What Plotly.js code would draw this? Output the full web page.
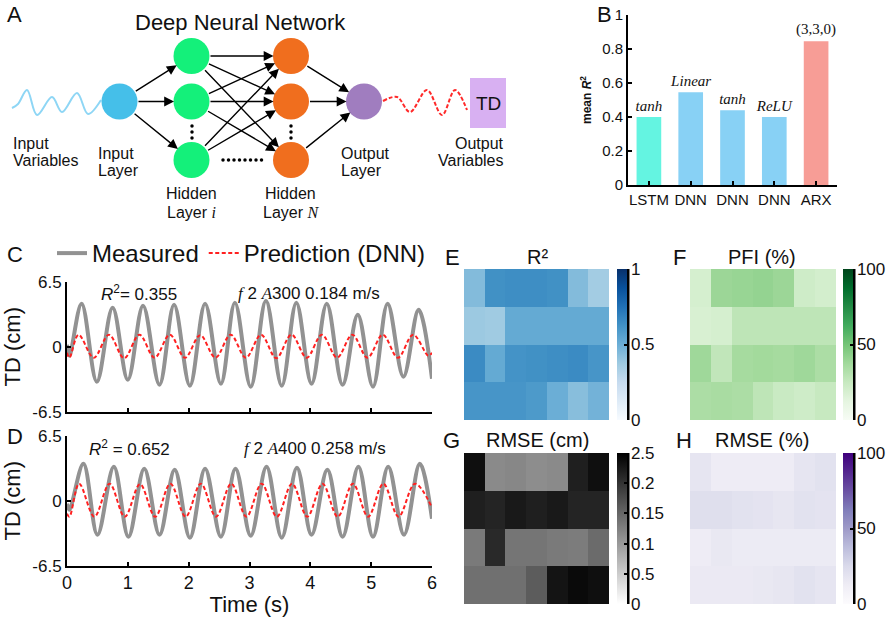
<!DOCTYPE html>
<html><head><meta charset="utf-8">
<script src="https://cdn.plot.ly/plotly-3.0.1.min.js"></script>
<style>html,body{margin:0;padding:0;background:#fff;}#chart{width:893px;height:617px;}</style>
</head><body><div id="chart"></div>
<script>
// ================= DATA =================
// Panel B
const modelNames = ['LSTM','DNN','DNN','DNN','ARX'];
const activations = ['tanh','Linear','tanh','ReLU','(3,3,0)'];
const meanR2 = [0.40, 0.545, 0.44, 0.40, 0.845];

// Panel C (f2 A300)
const tC_meas = [0, 0.04, 0.24, 0.49, 0.75, 1.00, 1.25, 1.52, 1.76, 2.02, 2.27, 2.53, 2.76, 3.02, 3.27, 3.53, 3.77, 4.02, 4.27, 4.53, 4.78, 5.03, 5.27, 5.53, 5.78, 6.00];
const vC_meas = [0.2, -0.9, 4.3, -3.5, 3.9, -3.3, 4.1, -3.8, 4.2, -3.9, 4.3, -3.7, 4.4, -4.0, 4.6, -3.9, 4.4, -3.7, 4.3, -3.8, 3.2, -4.0, 4.3, -3.0, 3.7, -3.2];
const tC_pred = [0, 0.04, 0.19, 0.44, 0.69, 0.94, 1.19, 1.44, 1.69, 1.94, 2.19, 2.44, 2.69, 2.94, 3.19, 3.44, 3.69, 3.94, 4.19, 4.44, 4.69, 4.94, 5.19, 5.44, 5.69, 5.94, 6.00];
const vC_pred = [-0.6, -1.1, 1.2, -1.1, 1.2, -1.15, 1.2, -1.1, 1.2, -1.1, 1.15, -1.1, 1.2, -1.1, 1.2, -1.15, 1.2, -1.1, 1.2, -1.1, 1.2, -1.1, 1.2, -1.1, 1.2, -0.9, -0.6];
const r2C = '0.355', condC = ['2','300','0.184'];

// Panel D (f2 A400)
const tD_meas = [0, 0.04, 0.27, 0.50, 0.77, 1.01, 1.27, 1.52, 1.77, 2.02, 2.27, 2.53, 2.77, 3.02, 3.28, 3.53, 3.78, 4.02, 4.28, 4.53, 4.79, 5.03, 5.28, 5.54, 5.80, 6.00];
const vD_meas = [-0.3, -0.9, 3.7, -3.4, 3.4, -3.6, 3.2, -3.4, 3.1, -3.7, 3.2, -3.6, 3.2, -3.5, 3.4, -3.7, 3.3, -3.4, 3.1, -3.6, 3.4, -3.6, 3.4, -3.4, 3.7, -1.8];
const tD_pred = [0, 0.04, 0.20, 0.45, 0.70, 0.95, 1.20, 1.45, 1.70, 1.95, 2.20, 2.45, 2.70, 2.95, 3.20, 3.45, 3.70, 3.95, 4.20, 4.45, 4.70, 4.95, 5.20, 5.45, 5.72, 6.00];
const vD_pred = [-1.3, -1.6, 1.7, -1.6, 1.7, -1.6, 1.65, -1.6, 1.7, -1.6, 1.7, -1.6, 1.7, -1.6, 1.7, -1.6, 1.7, -1.6, 1.7, -1.6, 1.7, -1.6, 1.7, -1.6, 1.7, -0.7];
const r2D = '0.652', condD = ['2','400','0.258'];

// Heatmaps (rows top -> bottom, 7 columns)
const heatCols = [0,1,2,3,4,5,6];
const heatRows = [0,1,2,3];
const r2Grid = [
  [0.44, 0.63, 0.64, 0.64, 0.63, 0.44, 0.36],
  [0.38, 0.37, 0.52, 0.52, 0.52, 0.52, 0.52],
  [0.65, 0.52, 0.62, 0.63, 0.64, 0.65, 0.61],
  [0.61, 0.61, 0.61, 0.59, 0.50, 0.43, 0.48]];
const pfiGrid = [
  [19, 39, 40, 41, 39, 22, 20],
  [18, 19, 28, 28, 28, 28, 28],
  [38, 27, 36, 37, 36, 38, 34],
  [34, 35, 34, 28, 24, 22, 25]];
const rmseCmGrid = [
  [2.35, 1.15, 1.18, 1.12, 1.15, 2.2, 2.35],
  [2.2, 2.15, 2.25, 2.2, 2.25, 2.15, 2.15],
  [1.3, 2.1, 1.35, 1.35, 1.3, 1.28, 1.45],
  [1.4, 1.4, 1.4, 1.6, 2.3, 2.4, 2.35]];
const rmsePctGrid = [
  [18, 13, 13, 13, 13, 18, 20],
  [22, 22, 20, 19, 17, 20, 19],
  [13, 16, 14, 14, 14, 14, 14],
  [15, 15, 15, 16, 17, 20, 18]];
const cbTicksE = [0, 0.5, 1], cbTextE = ['0','0.5','1'];
const cbTicksPct = [0, 50, 100], cbTextPct = ['0','50','100'];
const cbTicksG = [0, 0.5, 1, 1.5, 2, 2.5], cbTextG = ['0','0.5','0.1','0.15','0.2','2.5'];

// Panel A diagram (node layout in panel pixels)
const nodeInput = {x:[119.5], y:[101.5]};
const nodeHidI  = {x:[191.5,191.5,191.5], y:[56,101.5,160]};
const nodeHidN  = {x:[291,291,291], y:[56,101.5,160]};
const nodeOut   = {x:[364], y:[101.5]};
const waveInX = [12, 18, 27, 37, 52, 62, 77, 88, 101];
const waveInY = [108, 104, 90, 115, 97, 112, 93, 114, 100];
const waveOutX = [383, 397, 410, 427, 442, 455, 467];
const waveOutY = [101, 97, 112, 90, 115, 90, 110];
const vDotsX = [192,192,192,291,291,291], vDotsY = [126,132,138,126,132,138];
const hDotsX = [223,228.5,234,239.5,245,250.5,256,261.5], hDotsY = [160,160,160,160,160,160,160,160];

// ================= HELPERS =================
const W = 893, H = 617;
const px = v => v / W, py = v => 1 - v / H;
const SANS = 'Liberation Sans, Arial, Helvetica, sans-serif';
const SERIF = 'Liberation Serif, Times New Roman, serif';
const ser = s => '<span style="font-family:Liberation Serif, Times New Roman, serif"><i>' + s + '</i></span>';

const traces = [];
const annotations = [];
const shapes = [];

// ---------- Panel A ----------
traces.push({type:'scatter', mode:'lines', x:waveInX, y:waveInY, xaxis:'x', yaxis:'y',
  line:{color:'#8ed6f5', width:2, shape:'spline'}, showlegend:false, hoverinfo:'skip'});
traces.push({type:'scatter', mode:'lines', x:waveOutX, y:waveOutY, xaxis:'x', yaxis:'y',
  line:{color:'#ff2a2a', width:2, shape:'spline', dash:'4px,2px'}, showlegend:false, hoverinfo:'skip'});
const nodeSpec = [[nodeInput,'#45bfe9'],[nodeHidI,'#14f07a'],[nodeHidN,'#f06e1e'],[nodeOut,'#a07dbf']];
// arrows
const edges = [];
nodeHidI.x.forEach((_,i)=>edges.push([nodeInput.x[0],nodeInput.y[0],nodeHidI.x[i],nodeHidI.y[i]]));
nodeHidI.x.forEach((_,i)=>nodeHidN.x.forEach((_,j)=>{ if(!(i===2&&j===2)) edges.push([nodeHidI.x[i],nodeHidI.y[i],nodeHidN.x[j],nodeHidN.y[j]]); }));
nodeHidN.x.forEach((_,j)=>edges.push([nodeHidN.x[j],nodeHidN.y[j],nodeOut.x[0],nodeOut.y[0]]));
edges.forEach(e=>annotations.push({xref:'x', yref:'y', axref:'x', ayref:'y', x:e[2], y:e[3], ax:e[0], ay:e[1],
  text:'', showarrow:true, arrowhead:2, arrowsize:1.4, arrowwidth:1.4, arrowcolor:'#000', standoff:17.5, startstandoff:17.5}));
nodeSpec.forEach(([n,c])=>traces.push({type:'scatter', mode:'markers', x:n.x, y:n.y, xaxis:'x', yaxis:'y',
  marker:{size:36, color:c, line:{width:0}}, showlegend:false, hoverinfo:'skip'}));
traces.push({type:'scatter', mode:'markers', x:vDotsX.concat(hDotsX), y:vDotsY.concat(hDotsY), xaxis:'x', yaxis:'y',
  marker:{size:3.5, color:'#000'}, showlegend:false, hoverinfo:'skip'});
shapes.push({type:'rect', xref:'x', yref:'y', x0:470, x1:506, y0:78, y1:128, fillcolor:'#d8b0f2', line:{width:0}, layer:'below'});
function lab(text, x, y, anchor, size){ annotations.push({xref:'x', yref:'y', x:x, y:y, text:text, showarrow:false,
  xanchor:anchor||'left', yanchor:'middle', font:{family:SANS, size:size||16, color:'#111'}}); }
lab('TD', 488, 103, 'center', 19);
lab('Deep Neural Network', 240, 22, 'center', 22);
lab('Input', 11, 143); lab('Variables', 11, 160);
lab('Input', 96, 153); lab('Layer', 96, 170);
lab('Hidden', 191, 193, 'center'); lab('Layer ' + ser('i'), 191, 212, 'center');
lab('Hidden', 290, 193, 'center'); lab('Layer ' + ser('N'), 291, 212, 'center');
lab('Output', 339, 153); lab('Layer', 339, 170);
lab('Output', 506, 143, 'right'); lab('Variables', 506, 160, 'right');

// ---------- Panel B ----------
const barColors = ['#64f4e1','#88d1f5','#88d1f5','#88d1f5','#f79d96'];
traces.push({type:'bar', x:modelNames.map((_,i)=>i), y:meanR2, xaxis:'x2', yaxis:'y2',
  marker:{color:barColors, line:{width:0}}, width:0.59,
  text:activations.map((a,i)=> i===4 ? a : '<i>'+a+'</i>'), textposition:'outside', cliponaxis:false,
  constraintext:'none', textangle:0,
  textfont:{family:SERIF, size:15, color:'#111'}, showlegend:false, hoverinfo:'skip'});

// ---------- Panels C & D ----------
traces.push({type:'scatter', mode:'lines', name:'Measured', x:tC_meas, y:vC_meas, xaxis:'x3', yaxis:'y3',
  line:{color:'#929292', width:4, shape:'spline'}, legendrank:1});
traces.push({type:'scatter', mode:'lines', name:'Prediction (DNN)', x:tC_pred, y:vC_pred, xaxis:'x3', yaxis:'y3',
  line:{color:'#ff2020', width:2, shape:'spline', dash:'4px,2.5px'}, legendrank:2});
traces.push({type:'scatter', mode:'lines', name:'Measured', x:tD_meas, y:vD_meas, xaxis:'x4', yaxis:'y4',
  line:{color:'#929292', width:4, shape:'spline'}, showlegend:false});
traces.push({type:'scatter', mode:'lines', name:'Prediction (DNN)', x:tD_pred, y:vD_pred, xaxis:'x4', yaxis:'y4',
  line:{color:'#ff2020', width:2, shape:'spline', dash:'4px,2.5px'}, showlegend:false});

function txt(text, x, y, anchor, size, family){ annotations.push({xref:'paper', yref:'paper', x:px(x), y:py(y), text:text,
  showarrow:false, xanchor:anchor||'left', yanchor:'middle', font:{family:family||SANS, size:size||17, color:'#111'}}); }
txt('<i>R</i><sup>2</sup>= ' + r2C, 99, 293, 'left', 17);
txt(ser('f') + ' ' + condC[0] + ' ' + ser('A') + condC[1] + ' ' + condC[2] + ' m/s', 236, 293, 'left', 17);
txt('<i>R</i><sup>2</sup> = ' + r2D, 87, 448, 'left', 17);
txt(ser('f') + ' ' + condD[0] + ' ' + ser('A') + condD[1] + ' ' + condD[2] + ' m/s', 242, 448, 'left', 17);

// ---------- Heatmaps ----------
const blues = [[0,'#f7fbff'],[0.125,'#deebf7'],[0.25,'#c6dbef'],[0.375,'#9ecae1'],[0.5,'#6baed6'],[0.625,'#4292c6'],[0.75,'#2171b5'],[0.875,'#08519c'],[1,'#08306b']];
const greens = [[0,'#f7fcf5'],[0.125,'#e5f5e0'],[0.25,'#c7e9c0'],[0.375,'#a1d99b'],[0.5,'#74c476'],[0.625,'#41ab5d'],[0.75,'#238b45'],[0.875,'#006d2c'],[1,'#00441b']];
const purples = [[0,'#fcfbfd'],[0.125,'#efedf5'],[0.25,'#dadaeb'],[0.375,'#bcbddc'],[0.5,'#9e9ac8'],[0.625,'#807dba'],[0.75,'#6a51a3'],[0.875,'#54278f'],[1,'#3f007d']];
const grays = [[0,'#ffffff'],[1,'#000000']];
function cb(xl, yt, tv, tt){ return {x:px(xl), xanchor:'left', xpad:0, y:py(yt), yanchor:'top', ypad:0,
  thickness:10, thicknessmode:'pixels', len:151, lenmode:'pixels', outlinewidth:0,
  ticks:'inside', ticklen:3, tickwidth:2, tickcolor:'#000', tickvals:tv, ticktext:tt,
  tickfont:{family:SANS, size:17, color:'#111'}}; }
const heatDefs = [
  ['x5','y5', r2Grid, blues, 0, 1, cbTicksE, cbTextE, 617, 269],
  ['x6','y6', pfiGrid, greens, 0, 100, cbTicksPct, cbTextPct, 843, 269],
  ['x7','y7', rmseCmGrid, grays, 0, 2.5, cbTicksG, cbTextG, 617, 453],
  ['x8','y8', rmsePctGrid, purples, 0, 100, cbTicksPct, cbTextPct, 843, 453]];
heatDefs.forEach(d=>{
  traces.push({type:'heatmap', x:heatCols, y:heatRows, z:d[2], xaxis:d[0], yaxis:d[1], colorscale:d[3], zmin:d[4], zmax:d[5],
    colorbar:cb(d[8], d[9], d[6], d[7]), hoverinfo:'skip', xgap:0, ygap:0});
  shapes.push({type:'line', xref:'paper', yref:'paper', x0:px(d[8]+11), x1:px(d[8]+11), y0:py(d[9]), y1:py(d[9]+151), line:{color:'#000', width:3}});
});
txt('R²', 537, 257, 'center', 20); txt('PFI (%)', 762, 257, 'center', 20);
txt('RMSE (cm)', 537, 440, 'center', 20); txt('RMSE (%)', 762, 440, 'center', 20);

// panel letters
txt('A', 5, 14, 'left', 22); txt('B', 595, 14, 'left', 22);
txt('C', 5, 254, 'left', 22); txt('D', 5, 436, 'left', 22);
txt('E', 443, 257, 'left', 22); txt('F', 671, 257, 'left', 22);
txt('G', 441, 440, 'left', 22); txt('H', 674, 440, 'left', 22);

// ================= LAYOUT =================
const hidden = {visible:false, fixedrange:true};
const lineAx = {showline:true, linecolor:'#000', linewidth:2, ticks:'inside', ticklen:4, tickwidth:2, tickcolor:'#000',
  showgrid:false, zeroline:false, fixedrange:true};
const layout = {
  width:W, height:H, margin:{l:0,r:0,t:0,b:0}, paper_bgcolor:'#fff', plot_bgcolor:'rgba(0,0,0,0)',
  font:{family:SANS, color:'#111'}, showlegend:true, bargap:0.41,
  legend:{orientation:'h', x:px(52), y:py(231), xanchor:'left', yanchor:'top', font:{family:SANS, size:24, color:'#111'},
    bgcolor:'rgba(0,0,0,0)', borderwidth:0, itemwidth:30, tracegroupgap:0},
  xaxis:Object.assign({domain:[0, px(560)], range:[0,560]}, hidden),
  yaxis:Object.assign({domain:[py(230), 1], range:[230,0]}, hidden),
  xaxis2:Object.assign({}, lineAx, {domain:[px(628), px(837)], range:[-0.5,4.5], tickvals:[0,1,2,3,4], ticktext:modelNames,
    tickfont:{size:15}, anchor:'y2'}),
  yaxis2:Object.assign({}, lineAx, {domain:[py(185), py(15)], range:[0,1], tickvals:[0,0.2,0.4,0.6,0.8,1],
    ticktext:['0','0.2','0.4','0.6','0.8','1'], tickfont:{size:15}, anchor:'x2',
    title:{text:'<b>mean <i>R</i><sup>2</sup></b>', font:{size:12}, standoff:8}}),
  xaxis3:Object.assign({}, lineAx, {domain:[px(67), px(432)], range:[0,6], tickvals:[0,1,2,3,4,5,6], showticklabels:false, anchor:'y3'}),
  yaxis3:Object.assign({}, lineAx, {domain:[py(411.7), py(281.7)], range:[-6.5,6.5], tickvals:[-6.5,0,6.5], ticktext:['-6.5','0','6.5'],
    tickfont:{size:17}, anchor:'x3', title:{text:'TD (cm)', font:{size:22}, standoff:6}}),
  xaxis4:Object.assign({}, lineAx, {domain:[px(67), px(432)], range:[0,6], tickvals:[0,1,2,3,4,5,6], tickfont:{size:18}, anchor:'y4',
    title:{text:'Time (s)', font:{size:22}, standoff:0}}),
  yaxis4:Object.assign({}, lineAx, {domain:[py(565.7), py(435.7)], range:[-6.5,6.5], tickvals:[-6.5,0,6.5], ticktext:['-6.5','0','6.5'],
    tickfont:{size:17}, anchor:'x4', title:{text:'TD (cm)', font:{size:22}, standoff:6}}),
  xaxis5:Object.assign({domain:[px(464), px(609)], range:[-0.5,6.5], anchor:'y5'}, hidden),
  yaxis5:Object.assign({domain:[py(420), py(269)], range:[3.5,-0.5], anchor:'x5'}, hidden),
  xaxis6:Object.assign({domain:[px(690), px(836)], range:[-0.5,6.5], anchor:'y6'}, hidden),
  yaxis6:Object.assign({domain:[py(420), py(269)], range:[3.5,-0.5], anchor:'x6'}, hidden),
  xaxis7:Object.assign({domain:[px(464), px(609)], range:[-0.5,6.5], anchor:'y7'}, hidden),
  yaxis7:Object.assign({domain:[py(604), py(453)], range:[3.5,-0.5], anchor:'x7'}, hidden),
  xaxis8:Object.assign({domain:[px(690), px(836)], range:[-0.5,6.5], anchor:'y8'}, hidden),
  yaxis8:Object.assign({domain:[py(604), py(453)], range:[3.5,-0.5], anchor:'x8'}, hidden),
  annotations:annotations, shapes:shapes
};
Plotly.newPlot('chart', traces, layout, {displayModeBar:false, staticPlot:true});
</script></body></html>
